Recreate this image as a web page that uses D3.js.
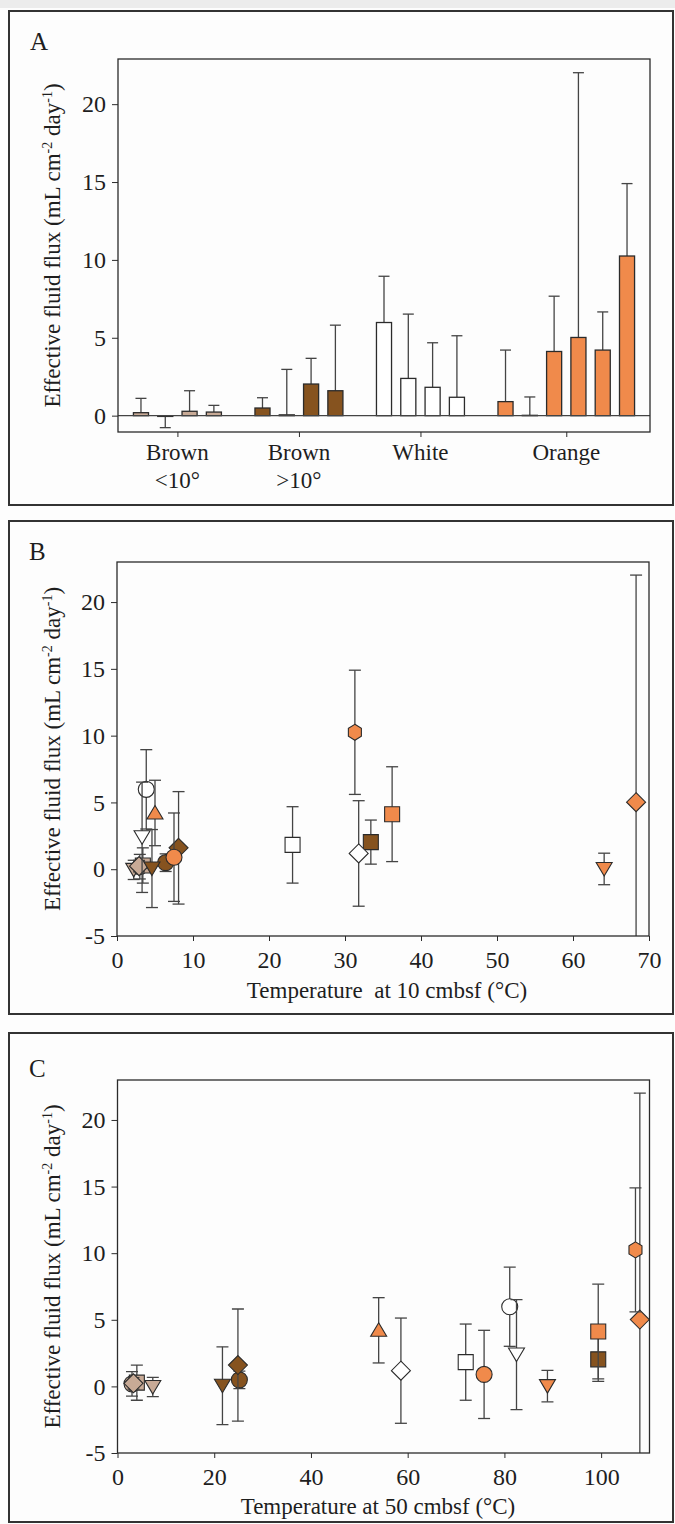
<!DOCTYPE html>
<html>
<head>
<meta charset="utf-8">
<script src="https://cdn.jsdelivr.net/npm/d3@7"></script>
<style>
  body { margin: 0; background: #fff; }
  text { font-family: "Liberation Serif", "Times New Roman", serif; fill: #1e1e1e; }
</style>
</head>
<body>
<script>
// groups of mats (panel A categories)
var groupLabels = [["Brown", "<10\u00b0"], ["Brown", ">10\u00b0"], ["White"], ["Orange"]];
var groupColors = ["#c8aa96", "#86531f", "#ffffff", "#f08a4b"];

// one entry per sample core
var sampleGroup = [0, 0, 0, 0, 1, 1, 1, 1, 2, 2, 2, 2, 3, 3, 3, 3, 3, 3];
var sampleShape = ["circle", "triDown", "square", "diamond",
                   "circle", "triDown", "square", "diamond",
                   "circle", "triDown", "square", "diamond",
                   "circle", "triDown", "square", "diamond", "triUp", "hexagon"];
var fluxMean = [0.19, -0.05, 0.28, 0.23, 0.49, 0.05, 2.03, 1.6,
                5.98, 2.39, 1.82, 1.18, 0.9, 0.02, 4.12, 5.02, 4.21, 10.25];
var fluxErr = [0.92, 0.72, 1.32, 0.43, 0.66, 2.92, 1.65, 4.21,
               2.97, 4.13, 2.86, 3.95, 3.31, 1.18, 3.55, 17.0, 2.45, 4.65];
var temp10 = [3.0, 2.2, 3.4, 2.9, 6.4, 4.6, 33.4, 8.1,
              3.85, 3.3, 23.1, 31.8, 7.5, 64.1, 36.2, 68.3, 5.0, 31.3];
var temp50 = [3.0, 7.3, 4.0, 3.3, 25.2, 21.7, 99.4, 24.9,
              81.1, 82.5, 72.0, 58.6, 75.8, 88.9, 99.4, 108.0, 54.0, 107.1];

var yTicksA = [0, 5, 10, 15, 20];
var yTicksBC = [-5, 0, 5, 10, 15, 20];
var xTicksB = [0, 10, 20, 30, 40, 50, 60, 70];
var xTicksC = [0, 20, 40, 60, 80, 100];

var W = 675, H = 1524;
var FS = 23, TFS = 24;
var ink = "#2b2b2b";
var plain = function(d) { return String(d); };   // keep the hyphen in "-5"

var svg = d3.select("body").append("svg")
  .attr("width", W)
  .attr("height", H);

svg.append("rect").attr("width", W).attr("height", H).attr("fill", "#fdfdfd");
svg.append("rect").attr("width", W).attr("height", 8).attr("fill", "#ececec");

// marker outlines, centred on 0,0
function shapePath(s) {
  if (s == "circle") return "M8,0A8,8 0 1,1 -8,0A8,8 0 1,1 8,0Z";
  if (s == "square") return "M-7.5,-7.5H7.5V7.5H-7.5Z";
  if (s == "diamond") return "M0,-9.5L9.5,0L0,9.5L-9.5,0Z";
  if (s == "triUp") return "M0,-7.5L8,6L-8,6Z";
  if (s == "triDown") return "M0,7L8,-6.5L-8,-6.5Z";
  if (s == "hexagon") return "M0,-8L6.5,-4L6.5,4L0,8L-6.5,4L-6.5,-4Z";
}

function frame(b) {
  svg.append("rect")
    .attr("x", b[0]).attr("y", b[1])
    .attr("width", b[2] - b[0]).attr("height", b[3] - b[1])
    .attr("fill", "none").attr("stroke", "#333").attr("stroke-width", 2);
}

function letter(t, x, y) {
  svg.append("text").attr("x", x).attr("y", y)
    .attr("font-size", 25).text(t);
}

function yAxis(y, plot, ticks) {
  var g = svg.append("g")
    .attr("transform", "translate(" + plot[0] + ",0)")
    .call(d3.axisLeft(y).tickValues(ticks).tickFormat(plain).tickSize(6).tickPadding(6));
  g.select(".domain").remove();
  g.selectAll("line").attr("stroke", ink);
  g.selectAll("text").attr("font-size", TFS).attr("font-family", "Liberation Serif")
    .attr("fill", "#1e1e1e");

  var t = svg.append("text")
    .attr("transform", "translate(60," + ((plot[1] + plot[3]) / 2) + ") rotate(-90)")
    .attr("text-anchor", "middle")
    .attr("font-size", FS);
  t.append("tspan").text("Effective fluid flux (mL cm");
  t.append("tspan").attr("dy", -8).attr("font-size", 14).text("-2");
  t.append("tspan").attr("dy", 8).text(" day");
  t.append("tspan").attr("dy", -8).attr("font-size", 14).text("-1");
  t.append("tspan").attr("dy", 8).text(")");
}

function plotBox(plot) {
  svg.append("rect")
    .attr("x", plot[0]).attr("y", plot[1])
    .attr("width", plot[2] - plot[0]).attr("height", plot[3] - plot[1])
    .attr("fill", "none").attr("stroke", ink).attr("stroke-width", 1.3);
}

// ---------------- panel A : bars ----------------
var boxA = [9, 11, 673, 505];
var plotA = [118, 59, 650, 432];
frame(boxA);
letter("A", 30, 50);

var slots = [];
sampleGroup.forEach(function(g, i) {
  if (i > 0 && sampleGroup[i - 1] != g) slots.push("gap" + g);
  slots.push("s" + i);
});

var xA = d3.scaleBand().domain(slots).range([plotA[0], plotA[2]])
  .paddingInner(0.38).paddingOuter(0.635);
var yA = d3.scaleLinear().domain([-1.05, 22.9]).range([plotA[3], plotA[1]]);

yAxis(yA, plotA, yTicksA);

// category axis sits under the middle of each group's bars
var groupMid = groupLabels.map(function(d, g) {
  var xs = sampleGroup.map(function(s, i) { return s == g ? xA("s" + i) : null; })
    .filter(function(v) { return v != null; });
  return (d3.min(xs) + d3.max(xs) + xA.bandwidth()) / 2;
});
var catScale = d3.scaleOrdinal().domain(d3.range(groupLabels.length)).range(groupMid);
var gx = svg.append("g")
  .attr("transform", "translate(0," + plotA[3] + ")")
  .call(d3.axisBottom(catScale).tickSize(5).tickFormat(""));
gx.select(".domain").remove();
gx.selectAll("line").attr("stroke", ink);

groupLabels.forEach(function(lines, g) {
  lines.forEach(function(l, k) {
    svg.append("text")
      .attr("x", groupMid[g]).attr("y", 460 + k * 28)
      .attr("text-anchor", "middle").attr("font-size", FS)
      .text(l);
  });
});

var barG = svg.append("g");
fluxMean.forEach(function(v, i) {
  var x0 = xA("s" + i), bw = xA.bandwidth(), cx = x0 + bw / 2;
  var tip = v >= 0 ? v + fluxErr[i] : v - fluxErr[i];
  barG.append("line")
    .attr("x1", cx).attr("x2", cx).attr("y1", yA(v)).attr("y2", yA(tip))
    .attr("stroke", "#444").attr("stroke-width", 1.3);
  barG.append("line")
    .attr("x1", cx - 5.5).attr("x2", cx + 5.5).attr("y1", yA(tip)).attr("y2", yA(tip))
    .attr("stroke", "#444").attr("stroke-width", 1.3);
  barG.append("rect")
    .attr("x", x0).attr("width", bw)
    .attr("y", Math.min(yA(v), yA(0)))
    .attr("height", Math.abs(yA(v) - yA(0)))
    .attr("fill", groupColors[sampleGroup[i]])
    .attr("stroke", ink).attr("stroke-width", 1.3);
});

svg.append("line")
  .attr("x1", plotA[0]).attr("x2", plotA[2]).attr("y1", yA(0)).attr("y2", yA(0))
  .attr("stroke", "#444").attr("stroke-width", 1.3);
plotBox(plotA);

// ---------------- panels B and C : scatter ----------------
function scatter(id, box, plot, xMax, xTicks, temps, title, titleX, titleY, label, letterY) {
  frame(box);
  letter(label, 29, letterY);

  var x = d3.scaleLinear().domain([0, xMax]).range([plot[0], plot[2]]);
  var y = d3.scaleLinear().domain([-5, 23]).range([plot[3], plot[1]]);

  yAxis(y, plot, yTicksBC);

  var g = svg.append("g")
    .attr("transform", "translate(0," + plot[3] + ")")
    .call(d3.axisBottom(x).tickValues(xTicks).tickFormat(plain).tickSize(5).tickPadding(10));
  g.select(".domain").remove();
  g.selectAll("line").attr("stroke", ink);
  g.selectAll("text").attr("font-size", TFS).attr("font-family", "Liberation Serif")
    .attr("fill", "#1e1e1e");

  svg.append("text")
    .attr("x", titleX).attr("y", titleY)
    .attr("text-anchor", "middle").attr("font-size", FS)
    .style("white-space", "pre")
    .text(title);

  svg.append("clipPath").attr("id", id)
    .append("rect")
    .attr("x", plot[0]).attr("y", plot[1])
    .attr("width", plot[2] - plot[0]).attr("height", plot[3] - plot[1]);

  var pts = svg.append("g").attr("clip-path", "url(#" + id + ")");
  [0, 1, 2, 3].forEach(function(grp) {
    fluxMean.forEach(function(v, i) {
      if (sampleGroup[i] != grp) return;
      var cx = x(temps[i]);
      var hi = v + fluxErr[i], lo = v - fluxErr[i];
      pts.append("line")
        .attr("x1", cx).attr("x2", cx).attr("y1", y(lo)).attr("y2", y(hi))
        .attr("stroke", "#444").attr("stroke-width", 1.3);
      [hi, lo].forEach(function(e) {
        pts.append("line")
          .attr("x1", cx - 6).attr("x2", cx + 6).attr("y1", y(e)).attr("y2", y(e))
          .attr("stroke", "#444").attr("stroke-width", 1.3);
      });
      pts.append("path")
        .attr("d", shapePath(sampleShape[i]))
        .attr("transform", "translate(" + cx + "," + y(v) + ")")
        .attr("fill", groupColors[grp])
        .attr("stroke", ink).attr("stroke-width", 1.1);
    });
  });

  plotBox(plot);
}

scatter("clipB", [9, 521, 673, 1014], [117, 562, 649, 936], 70, xTicksB, temp10,
        "Temperature  at 10 cmbsf (\u00b0C)", 387, 998, "B", 560);
scatter("clipC", [9, 1033, 673, 1522], [117.5, 1080, 649.5, 1453], 110, xTicksC, temp50,
        "Temperature at 50 cmbsf (\u00b0C)", 378, 1514, "C", 1077);
</script>
</body>
</html>
